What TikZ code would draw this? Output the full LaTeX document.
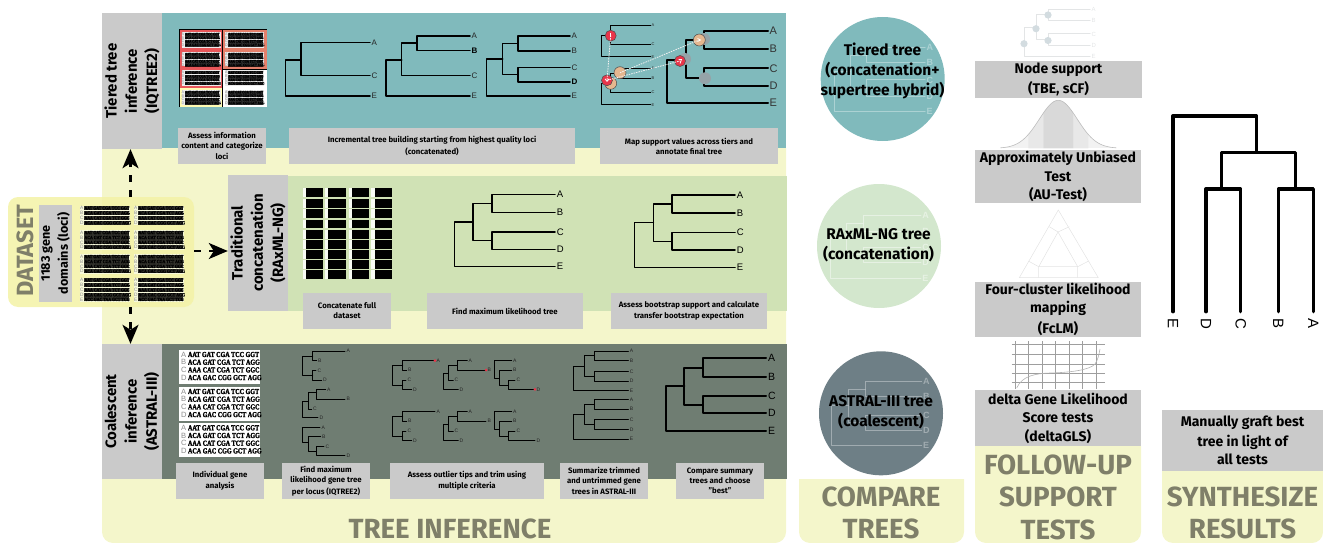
\documentclass[tikz,border=0pt]{standalone}
\usepackage{fontspec}
\setmainfont{Fira Sans}
\newfontfamily\lblfont{Liberation Sans}
\newfontfamily\alnfont{Liberation Serif Bold}[FakeBold=2,FakeStretch=0.8]
\let\curaln\alnfont
\def\underop{0}
\usetikzlibrary{arrows.meta,calc}
\definecolor{yel}{HTML}{F4F6CB}
\definecolor{teal1}{HTML}{80BABC}
\definecolor{grn1}{HTML}{D0E2B5}
\definecolor{grn2}{HTML}{D3E7CD}
\definecolor{dark1}{HTML}{6F7D72}
\definecolor{astralc}{HTML}{6E7F86}
\definecolor{gry}{HTML}{CACACA}
\definecolor{olive1}{HTML}{7F7F69}
\definecolor{dsyel}{HTML}{F3F2A6}
\definecolor{red1}{HTML}{E8354A}
\definecolor{red2}{HTML}{E8575A}
\definecolor{salm}{HTML}{E5806B}
\definecolor{peach}{HTML}{E5B78F}
\definecolor{halo}{HTML}{95A3A8}
\definecolor{ghost}{HTML}{E3E5E6}
\definecolor{ghostn}{HTML}{D3DCE0}
\tikzset{
  gbox/.style={fill=gry,inner sep=0pt,align=center,text=black},
  bigtitle/.style={text=olive1,font=\fontsize{27.7}{32.5}\selectfont\bfseries,inner sep=0pt,align=center},
  dasharrow/.style={line width=2.3pt,dash pattern=on 7pt off 8pt,-{Stealth[length=19pt,width=16pt,inset=5pt]}},
  suppc/.style={circle,inner sep=0pt,minimum size=11pt,draw=black!70,line width=.5pt},
  dotw/.style={draw=white!90!gray,line width=.8pt,dash pattern=on 1.5pt off 1pt},
  gridl/.style={draw=black!38,line width=.9pt},
  rowlab/.style={gbox,rotate=90,minimum width=136pt,minimum height=60pt,font=\fontsize{15}{20.3}\selectfont\bfseries},
  circtxt/.style={font=\fontsize{15.5}{20}\selectfont\bfseries,align=center,inner sep=0pt}
}
% box from corners with centred text
\newcommand\gbx[7]{\node[gbox,minimum width={(#4-#2)*1pt},minimum height={(#5-#3)*1pt},font=\fontsize{#6}{#6}\selectfont\bfseries] (#1) at ({(#2+#4)/2},{(#3+#5)/2}) {#7};}
% panel with rounded bottom corners
\newcommand\ybottom[5]{\fill[#1] (#2,#3) -- (#4,#3) [rounded corners=11pt] -- (#4,#5) -- (#2,#5) [sharp corners] -- cycle;}
% five-tip tree ((A,B),(C,D)),E
\newcommand\ftree[8]{\begin{scope}[#1,line cap=round,line join=round]
 \foreach \xr/\xi/\xc/\xt in {#3}{
  \draw (\xt,#4) -- (\xc,#4) -- (\xc,#5) -- (\xt,#5);
  \draw (\xt,#6) -- (\xc,#6) -- (\xc,#7) -- (\xt,#7);
  \draw (\xc,{(#4+#5)/2}) -- (\xi,{(#4+#5)/2}) -- (\xi,{(#6+#7)/2}) -- (\xc,{(#6+#7)/2});
  \draw (\xi,{(#4+#5+#6+#7)/4}) -- (\xr,{(#4+#5+#6+#7)/4}) -- (\xr,#8) -- (\xt,#8);
  \foreach \ty/\tlab in {#4/A,#5/B,#6/C,#7/D,#8/E}{\node[anchor=west,inner sep=0pt,font=#2] at (\xt+1,\ty) {\tlab};}
 }\end{scope}}
% tip label
\newcommand\tl[3]{\node[anchor=west,inner sep=0pt,font=\lblfont\fontsize{5}{5}\selectfont,text=black!85] at (#1,#2) {#3};}
% one row of alignment
\newcommand\alnrow[5]{\node[anchor=west,inner sep=0pt,font=\lblfont\fontsize{#4}{#4}\selectfont,text=black!45] at (#1,#2) {#3};\fill[black,opacity=\underop] ({#1+0.9*#4},{#2-.42*#4}) rectangle ++({9.3*#4},{.84*#4});\node[anchor=west,inner sep=0pt,font=\curaln\fontsize{#4}{#4}\selectfont,text=black] at ({#1+0.9*#4},#2) {#5};}
% block of four rows: x y fontsize spacing
\newcommand\aln[4]{%
 \alnrow{#1}{#2}{A}{#3}{AAT GAT CGA TCC GGT}%
 \alnrow{#1}{#2+#4}{B}{#3}{ACA GAT CGA TCT AGG}%
 \alnrow{#1}{#2+2*#4}{C}{#3}{AAA CAT CGA TCT GGC}%
 \alnrow{#1}{#2+3*#4}{D}{#3}{ACA GAC CGG GCT AGG}}
\begin{document}
\begin{tikzpicture}[x=1pt,y=-1pt]
\useasboundingbox (0,0) rectangle (1323,543);
% backgrounds
\ybottom{yel}{102}{148}{786}{543}
\fill[teal1] (162,13) rectangle (786,148);
\fill[grn1] (288,176) rectangle (787,311);
\fill[dark1] (162,344) rectangle (787,479);
\ybottom{yel}{799}{479}{964}{543}
\ybottom{yel}{975}{446}{1141}{543}
\ybottom{yel}{1162}{471}{1323}{543}
% row labels
\node[rowlab] (tierlab) at (132,81) {Tiered tree\\inference\\(IQTREE2)};
\node[rowlab] (tradlab) at (258,243) {Traditional\\concatenation\\(RAxML-NG)};
\node[rowlab,minimum width=135pt] (coallab) at (132,411.5) {Coalescent\\inference\\(ASTRAL-III)};
% dataset
\node[fill=dsyel,fill opacity=.85,rounded corners=10pt,minimum width=186pt,minimum height=110pt,inner sep=0pt] (dataset) at (101,252) {};
\coordinate (dsup) at (130.5,197);
\coordinate (dsdown) at (130.5,307);
\coordinate (dsright) at (194,251);
\draw[dasharrow] (dsup) -- (dsup |- tierlab.west);
\draw[dasharrow] (dsdown) -- (dsdown |- coallab.east);
\draw[dasharrow] (dsright) -- (dsright -| tradlab.north);
\node[rotate=90,text=olive1,font=\fontsize{23.5}{24}\selectfont\bfseries,inner sep=0pt] (dstitle) at (25,250.5) {DATASET};
\node[gbox,minimum width=97pt,minimum height=33pt,font=\fontsize{12.6}{18}\selectfont\bfseries,rotate=90] (dslab) at (55.5,253.5) {1183 gene\\domains (loci)};
\begin{scope}\def\underop{.8}
\foreach \bx in {80,134}{
 \foreach \by/\bh in {205.5/19.5,230/19.5,254/19.5,277.5/24.5}{
  \fill[yel!70!white] (\bx,\by) rectangle ++(50,\bh);
  \aln{\bx}{\by+2.6}{4.8}{4.9}
 }}
\foreach \bx in {80,134}{\alnrow{\bx}{299.4}{E}{4.8}{ACC GAC TAA GCT TCG}}
% ---------- tiered row
\fill[black] (179,29) rectangle (267,107);
\fill[red2] (179.5,30) rectangle (222,87.7);
\fill[yellow!30!white] (179.5,87.7) rectangle (222,106.5);
\fill[salm] (223,30) rectangle (266.5,69);
\fill[white] (223,69.7) rectangle (266.5,106.5);
\foreach \bx in {181.5,225}{
 \foreach \by/\bh in {32/16,52/14.5,70.5/15.5,90/15}{
  \fill[white!85!gray] (\bx,\by) rectangle ++(39,\bh);
  \aln{\bx}{\by+2.2}{3.7}{3.6}
 }}
\end{scope}
\begin{scope}[line width=1.5pt,line cap=round,line join=round]
 \draw (370,42.7) -- (301,42.7) -- (301,75.3) -- (370,75.3);
 \draw (301,60) -- (285.7,60) -- (285.7,96) -- (370,96);
 \draw (470,36) -- (417,36) -- (417,50.7) -- (470,50.7);
 \draw (417,43) -- (401.7,43) -- (401.7,75.3) -- (470,75.3);
 \draw (401.7,60) -- (386,60) -- (386,96) -- (470,96);
 \draw (570,36) -- (518,36) -- (518,51) -- (570,51);
 \draw (570,67.5) -- (518,67.5) -- (518,82) -- (570,82);
 \draw (518,43.5) -- (502.7,43.5) -- (502.7,74.7) -- (518,74.7);
 \draw (502.7,59) -- (486.7,59) -- (486.7,96) -- (570,96);
\end{scope}
\foreach \tx/\ty/\tt in {371.5/42.7/A,371.5/75.3/C,371.5/96/E,471.5/36/A,471.5/75.3/C,471.5/96/E,571.5/36/A,571.5/51/B,571.5/67.5/C,571.5/96/E}{\node[anchor=west,inner sep=0pt,font=\lblfont\fontsize{8}{8}\selectfont,text=black!85] at (\tx,\ty) {\tt};}
\node[anchor=west,inner sep=0pt,font=\lblfont\bfseries\fontsize{8}{8}\selectfont] at (471.5,50.7) {B};
\node[anchor=west,inner sep=0pt,font=\lblfont\bfseries\fontsize{8}{8}\selectfont] at (571.5,82) {D};
% map support: small trees
\begin{scope}[line width=.8pt,line cap=round,line join=round]
 \draw (650.7,25.3) -- (610.7,25.3) -- (610.7,44.3) -- (650.7,44.3);
 \draw (610.7,35.7) -- (601,35.7) -- (601,56.7) -- (650.7,56.7);
 \draw (650.7,68.3) -- (620,68.3) -- (620,78) -- (650.7,78);
 \draw (620,73) -- (610.7,73) -- (610.7,92) -- (650.7,92);
 \draw (610.7,83) -- (601,83) -- (601,104.7) -- (650.7,104.7);
\end{scope}
\foreach \ty/\tt in {25.3/A,44.3/C,56.7/E,68.3/A,78/B,92/C,104.7/E}{\node[anchor=west,inner sep=0pt,font=\lblfont\fontsize{4}{5}\selectfont,text=black!85] at (651.5,\ty) {\tt};}
% big tree
\begin{scope}[line width=2pt,line cap=round,line join=round]
 \draw (768,30.7) -- (704.3,30.7) -- (704.3,49) -- (768,49);
 \draw (768,68.3) -- (704.3,68.3) -- (704.3,86) -- (768,86);
 \draw (704.3,40) -- (686,40) -- (686,78.3) -- (704.3,78.3);
 \draw (686,60) -- (667,60) -- (667,103) -- (768,103);
\end{scope}
\foreach \ty/\tt in {30.7/A,49/B,68.3/C,86/D,103/E}{\node[anchor=west,inner sep=0pt,font=\lblfont\fontsize{11}{12}\selectfont,text=black!80] at (769.5,\ty) {\tt};}
\fill[halo] (704,39) circle (6);
\fill[halo] (685,59) circle (6);
\fill[halo] (705,78.3) circle (6);
\node[suppc,fill=red1] (m1) at (610.7,35.7) {};
\node[suppc,fill=peach,minimum size=12pt] (m3) at (610.7,83.3) {};
\node[suppc,fill=peach,minimum size=12pt] (m2) at (620,72.7) {};
\node[suppc,fill=red1] (m4) at (607,80.3) {};
\node[suppc,fill=peach,minimum size=12pt] (m5) at (699.3,40) {};
\node[suppc,fill=red1] (m6) at (680,61) {};
\draw[dotw] (m1.center) -- (m4.center);
\draw[dotw] (m2.center) -- (m5.center);
\draw[dotw] (m4.center) -- (m6.center);
\draw[white,line width=.8pt] (610.7,33.5) -- (610.7,37.5);
\draw[white,line width=.8pt] (605,78.8) -- (607,81.3) -- (609,78.8);
\draw[white,line width=.8pt] (678.5,59.5) -- (681.5,59.5) -- (680,63.5);
\draw[white,line width=.8pt] (697.5,38.5) -- (700.5,40) -- (697.5,41.5);
% captions tiered
\gbx{c1}{178}{128}{266}{164}{7.8}{Assess information\\[2.2pt]content and categorize\\[2.2pt]loci}
\gbx{c2}{289}{128}{575}{164}{7.8}{Incremental tree building starting from highest quality loci\\[2.2pt](concatenated)}
\gbx{c3}{600}{128}{778}{164}{7.8}{Map support values across tiers and\\[2.2pt]annotate final tree}
% ---------- traditional row
\foreach \cx in {306,328.3,352,374.7}{
 \foreach \ry in {188,199,209,219.7,230,240,250.3,260.3,270.3}{
  \fill[white!85!grn1] (\cx-3.5,\ry) rectangle (\cx,\ry+8.7);
  \fill[black] (\cx,\ry) rectangle (\cx+17.3,\ry+8.7);
 }}
\ftree{line width=1.5pt}{\lblfont\fontsize{9.5}{10}\selectfont}{454.7/473/492/555}{194.7}{212.7}{232}{249.3}{266.7}
\ftree{line width=1.5pt}{\lblfont\fontsize{9.5}{10}\selectfont}{634.3/653.3/672/735}{195}{213}{232.7}{250}{267.7}
\gbx{c4}{303}{293}{391}{329}{7.8}{Concatenate full\\[2.2pt]dataset}
\gbx{c5}{427}{293}{583}{329}{7.8}{Find maximum likelihood tree}
\gbx{c6}{611}{293}{767}{329}{7.8}{Assess bootstrap support and calculate\\[2.2pt]transfer bootstrap expectation}
% ---------- coalescent row
\foreach \by in {350,387,423.3}{
 \fill[white] (179,\by) rectangle (260,\by+33.6);
 \aln{181}{\by+4.5}{7.6}{7.7}
}
\begin{scope}[line width=.85pt,line cap=round,line join=round]
 % gene tree 1
 \draw (345,351) -- (312.7,351) -- (312.7,360.7) -- (316.7,360.7);
 \draw (316,370.7) -- (312.7,370.7) -- (312.7,380) -- (321.7,380);
 \draw (312.7,356) -- (302.7,356) -- (302.7,375) -- (312.7,375);
 % gene tree 2
 \draw (325.7,389.3) -- (316.7,389.3) -- (316.7,399) -- (345,399);
 \draw (316.7,392.7) -- (308.3,392.7) -- (308.3,409) -- (311.7,409);
 \draw (308.3,401) -- (302.7,401) -- (302.7,417.7) -- (318,417.7);
 % gene tree 3
 \draw (320,427.3) -- (302.7,427.3) -- (302.7,442.3) -- (308.3,442.3);
 \draw (320.7,436.7) -- (308.3,436.7) -- (308.3,451) -- (316,451);
 \draw (324,446.7) -- (316,446.7) -- (316,455.7) -- (345,455.7);
 % outlier trees, both rows
 \foreach \dy in {0,51}{
  \draw (435,360.7+\dy) -- (402.7,360.7+\dy) -- (402.7,370+\dy) -- (406.7,370+\dy);
  \draw (406,380+\dy) -- (402.7,380+\dy) -- (402.7,389.3+\dy) -- (411.7,389.3+\dy);
  \draw (402.7,365+\dy) -- (392.7,365+\dy) -- (392.7,385+\dy) -- (402.7,385+\dy);
  \draw (467.3,360.7+\dy) -- (457.3,360.7+\dy) -- (457.3,370+\dy) -- (486,370+\dy);
  \draw (457.3,365+\dy) -- (448.3,365+\dy) -- (448.3,380+\dy) -- (453.3,380+\dy);
  \draw (448.3,373.3+\dy) -- (443.3,373.3+\dy) -- (443.3,389.3+\dy) -- (458.3,389.3+\dy);
  \draw (511.7,360.7+\dy) -- (494.3,360.7+\dy) -- (494.3,378+\dy) -- (499.3,378+\dy);
  \draw (511.7,370+\dy) -- (499.3,370+\dy) -- (499.3,385+\dy) -- (508.3,385+\dy);
  \draw (515,380+\dy) -- (508.3,380+\dy) -- (508.3,389.3+\dy) -- (535,389.3+\dy);
 }
\end{scope}
\foreach \lx/\ly/\lt in {346.5/351/A,318/360.7/B,317.5/370.7/C,323/380/D,327/389.3/A,346.5/399/B,313/409/C,319.5/417.7/D,321.5/427.3/A,322/436.7/B,325.5/446.7/C,346.5/455.7/D}{\tl{\lx}{\ly}{\lt}}
\foreach \dy in {0,51}{
 \tl{436.5}{360.7+\dy}{A}\tl{408}{370+\dy}{B}\tl{407.5}{380+\dy}{C}\tl{413}{389.3+\dy}{D}
 \tl{468.5}{360.7+\dy}{A}\tl{487.5}{370+\dy}{B}\tl{454.5}{380+\dy}{C}\tl{459.5}{389.3+\dy}{D}
 \tl{513}{360.7+\dy}{A}\tl{513}{370+\dy}{B}\tl{516.5}{380+\dy}{C}\tl{536.5}{389.3+\dy}{D}
}
\fill[red1] (435,360.7) circle (1.5);
\fill[red1] (486,370) circle (1.5);
\fill[red1] (535,389.3) circle (1.5);
\ftree{line width=.9pt}{\lblfont\fontsize{5}{5}\selectfont\color{black!85}}{573.3/584/594/628.3}{351}{360.7}{371.7}{381}{390.7}
\ftree{line width=.9pt}{\lblfont\fontsize{5}{5}\selectfont\color{black!85}}{573.3/584/594/628.3}{399.3}{409}{419.7}{429.3}{439}
\ftree{line width=2pt}{\lblfont\fontsize{10.5}{11}\selectfont}{665.7/684.3/702.7/766}{358.3}{376.7}{396}{413.3}{430.7}
\gbx{c7}{176}{463}{264}{499}{7.8}{Individual gene\\[2.2pt]analysis}
\gbx{c8}{282}{463}{370}{499}{7.8}{Find maximum\\[2.2pt]likelihood gene tree\\[2.2pt]per locus (IQTREE2)}
\gbx{c9}{390}{463}{544}{499}{7.8}{Assess outlier tips and trim using\\[2.2pt]multiple criteria}
\gbx{c10}{560}{463}{648}{499}{7.8}{Summarize trimmed\\[2.2pt]and untrimmed gene\\[2.2pt]trees in ASTRAL-III}
\gbx{c11}{676}{463}{764}{499}{7.8}{Compare summary\\[2.2pt]trees and choose\\[2.2pt]"best"}
\node[bigtitle] (tt1) at (450,529) {TREE INFERENCE};
% ---------- compare trees
\node[circle,fill=teal1,minimum size=124pt,inner sep=0pt] (circ1) at (882.7,79) {};
\node[circle,fill=grn2,minimum size=124pt,inner sep=0pt] (circ2) at (879,246) {};
\node[circle,fill=astralc,minimum size=124pt,inner sep=0pt] (circ3) at (881,413.3) {};
\ftree{line width=1pt,color=white,opacity=.35}{\lblfont\bfseries\fontsize{9}{10}\selectfont}{834/850/866.7/925}{47.7}{62.7}{80}{96.7}{111.7}
\ftree{line width=.8pt,color=white,opacity=.45}{\lblfont\bfseries\fontsize{9}{10}\selectfont}{830.7/846.7/863/921}{215}{231}{247}{262}{278}
\ftree{line width=1pt,color=white,opacity=.35}{\lblfont\bfseries\fontsize{9}{10}\selectfont}{831.7/848/865/921.7}{381.7}{396.7}{415}{430}{445}
\node[circtxt] (ct1) at (882.5,71) {Tiered tree\\(concatenation+\\supertree hybrid)};
\node[circtxt] (ct2) at (878.5,245) {RAxML-NG tree\\(concatenation)};
\node[circtxt] (ct3) at (881,412) {ASTRAL-III tree\\(coalescent)};
\node[bigtitle] (tt2) at (881,513) {COMPARE\\TREES};
% ---------- follow-up
\ftree{line width=1pt,color=ghost}{\lblfont\fontsize{6}{6}\selectfont}{1024/1036/1048/1090}{9.3}{20.7}{34}{45.3}{56.7}
\foreach \nx/\ny in {1048/15,1036/28.7,1048/40.5,1024/43.7}{\fill[ghostn] (\nx,\ny) circle (3.6);}
\gbx{f1}{975}{61}{1142}{98}{14}{Node support\\[4.5pt](TBE, sCF)}
% gaussian
\fill[black!5] plot[domain=-58:58,samples=60] ({1058.3+\x},{148.3-48*exp(-(\x*\x)/(2*19*19))}) -- cycle;
\fill[black!9] plot[domain=-30:-15,samples=12] ({1058.3+\x},{148.3-48*exp(-(\x*\x)/(2*19*19))}) -- (1043.3,148.3) -- (1028.3,148.3) -- cycle;
\fill[black!9] plot[domain=15:30,samples=12] ({1058.3+\x},{148.3-48*exp(-(\x*\x)/(2*19*19))}) -- (1088.3,148.3) -- (1073.3,148.3) -- cycle;
\fill[black!15] plot[domain=-15:15,samples=20] ({1058.3+\x},{148.3-48*exp(-(\x*\x)/(2*19*19))}) -- (1073.3,148.3) -- (1043.3,148.3) -- cycle;
\draw[black!26,line width=.6pt] plot[domain=-58:58,samples=60] ({1058.3+\x},{148.3-48*exp(-(\x*\x)/(2*19*19))});
\gbx{f2}{975}{150}{1141}{203}{14}{Approximately Unbiased\\[4.5pt]Test\\[4.5pt](AU-Test)}
% triangle
\begin{scope}[draw=black!11,line width=.5pt]
 \draw (1058.3,210) -- (1098.3,277.7) -- (1019.3,277.7) -- cycle;
 \draw (1058,232) -- (1077.7,266.7) -- (1038.7,266.7) -- cycle;
 \draw (1058,232) -- (1049.3,226.7) (1058,232) -- (1069.3,226.7);
 \draw (1038.7,266.7) -- (1028.3,261) (1038.7,266.7) -- (1038.7,277.7);
 \draw (1077.7,266.7) -- (1088.7,261) (1077.7,266.7) -- (1077.7,277.7);
\end{scope}
\gbx{f3}{975}{282}{1141}{337}{14}{Four-cluster likelihood\\[4.5pt]mapping\\[4.5pt](FcLM)}
% grid
\foreach \gy in {344.3,354.7,364,373.7,382.7}{\draw[gridl] (1011.7,\gy) -- (1105,\gy);}
\foreach \gx in {1015,1028.7,1042.3,1055.7,1069,1082.3,1096}{\draw[gridl] (\gx,341) -- (\gx,389);}
\draw[black!30,line width=.6pt] (1016.7,388) .. controls (1022,376) and (1035,373.5) .. (1050,373) .. controls (1070,372.5) and (1090,370) .. (1095,364) .. controls (1098,360) and (1099,354) .. (1100,349);
\gbx{f4}{975}{390}{1141}{446}{14}{delta Gene Likelihood\\[4.5pt]Score tests\\[4.5pt](deltaGLS)}
\node[bigtitle] (tt3) at (1058,497) {FOLLOW-UP\\SUPPORT\\TESTS};
% ---------- synthesize
\begin{scope}[line width=3.3pt,line cap=round,line join=round]
 \draw (1173,311.7) -- (1173,116) -- (1256.7,116) -- (1256.7,152.3);
 \draw (1221.3,189) -- (1221.3,152.3) -- (1295.7,152.3) -- (1295.7,189);
 \draw (1206,311.7) -- (1206,189) -- (1240.7,189) -- (1240.7,311.7);
 \draw (1278.3,311.7) -- (1278.3,189) -- (1313.3,189) -- (1313.3,311.7);
\end{scope}
\foreach \lx/\lt in {1173/E,1206/D,1240.7/C,1278.3/B,1313.3/A}{\node[rotate=-90,font=\lblfont\fontsize{15}{16}\selectfont,inner sep=0pt] at (\lx,323.5) {\lt};}
\gbx{s1}{1162}{410}{1323}{471}{14}{Manually graft best\\[4.5pt]tree in light of\\[4.5pt]all tests}
\node[bigtitle] (tt4) at (1242.5,513) {SYNTHESIZE\\RESULTS};
\end{tikzpicture}
\end{document}
